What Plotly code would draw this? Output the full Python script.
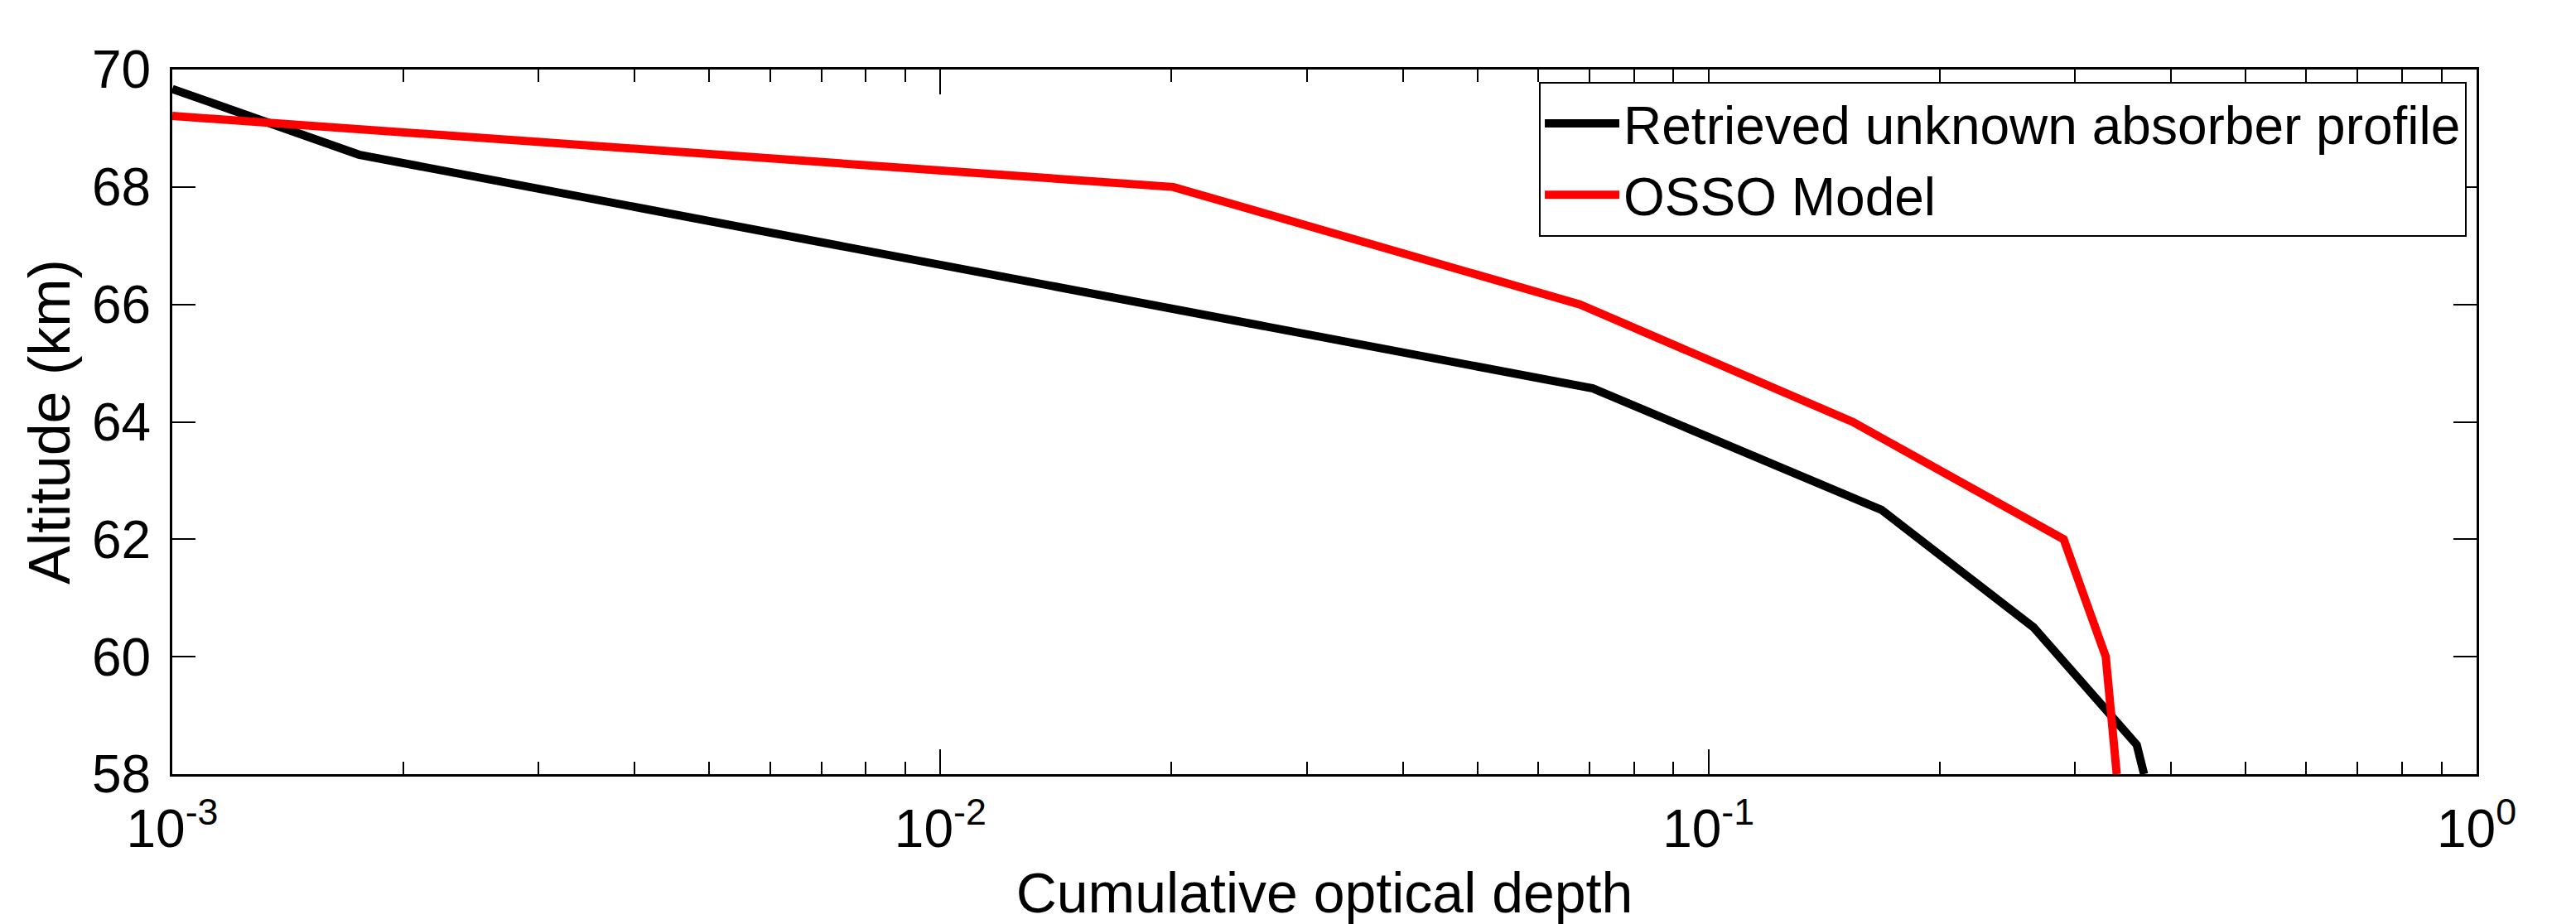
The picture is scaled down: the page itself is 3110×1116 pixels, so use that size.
import plotly.graph_objects as go

# Data
retrieved_depth = [0.001, 0.00175, 0.0707, 0.168, 0.265, 0.361, 0.369]
retrieved_alt = [69.67, 68.55, 64.57, 62.5, 60.5, 58.5, 58.0]

osso_depth = [0.001, 0.0201, 0.068, 0.154, 0.29, 0.329, 0.340]
osso_alt = [69.21, 68.0, 66.0, 64.0, 62.0, 60.0, 58.0]

series_names = ["Retrieved unknown absorber profile", "OSSO Model"]

x_tickvals = [1e-3, 1e-2, 1e-1, 1]
x_ticktext = ["10<sup>-3</sup>", "10<sup>-2</sup>", "10<sup>-1</sup>", "10<sup>0</sup>"]
x_minor = [m * 10.0 ** e for e in (-3, -2, -1) for m in range(2, 10)]
y_tickvals = [58, 60, 62, 64, 66, 68, 70]

FONT = "Liberation Sans, Arial, Helvetica, sans-serif"

fig = go.Figure()
fig.add_trace(go.Scatter(x=retrieved_depth, y=retrieved_alt, mode="lines",
                         name=series_names[0],
                         line=dict(color="#000000", width=10)))
fig.add_trace(go.Scatter(x=osso_depth, y=osso_alt, mode="lines",
                         name=series_names[1],
                         line=dict(color="#ff0000", width=10)))

fig.update_layout(
    width=3110, height=1116,
    margin=dict(l=208, r=120, t=84, b=175),
    paper_bgcolor="white", plot_bgcolor="white",
    font=dict(family=FONT, size=62, color="black"),
    showlegend=True,
    legend=dict(
        x=0.9957, y=0.9825, xanchor="right", yanchor="top",
        xref="paper", yref="paper",
        bgcolor="white", bordercolor="black", borderwidth=2,
        font=dict(family=FONT, size=64, color="black"),
        tracegroupgap=0, itemwidth=90,
    ),
    xaxis=dict(
        type="log", range=[-3, 0],
        tickmode="array", tickvals=x_tickvals, ticktext=x_ticktext,
        ticks="inside", ticklen=30, tickwidth=2, tickcolor="black",
        minor=dict(tickmode="array", tickvals=x_minor, ticks="inside",
                   ticklen=15, tickwidth=2, tickcolor="black", showgrid=False),
        showline=True, linecolor="black", linewidth=3, mirror="ticks",
        showgrid=False, zeroline=False,
        ticklabelstandoff=8,
        tickfont=dict(family=FONT, size=64, color="black"),
        title=dict(text="Cumulative optical depth",
                   font=dict(family=FONT, size=68, color="black"), standoff=20),
    ),
    yaxis=dict(
        range=[58, 70],
        tickmode="array", tickvals=y_tickvals,
        ticks="inside", ticklen=28, tickwidth=2, tickcolor="black",
        showline=True, linecolor="black", linewidth=3, mirror="ticks",
        showgrid=False, zeroline=False,
        ticklabelstandoff=10,
        tickfont=dict(family=FONT, size=64, color="black"),
        title=dict(text="Altitude (km)",
                   font=dict(family=FONT, size=70, color="black"), standoff=4),
    ),
)

fig.write_html("out.html")
